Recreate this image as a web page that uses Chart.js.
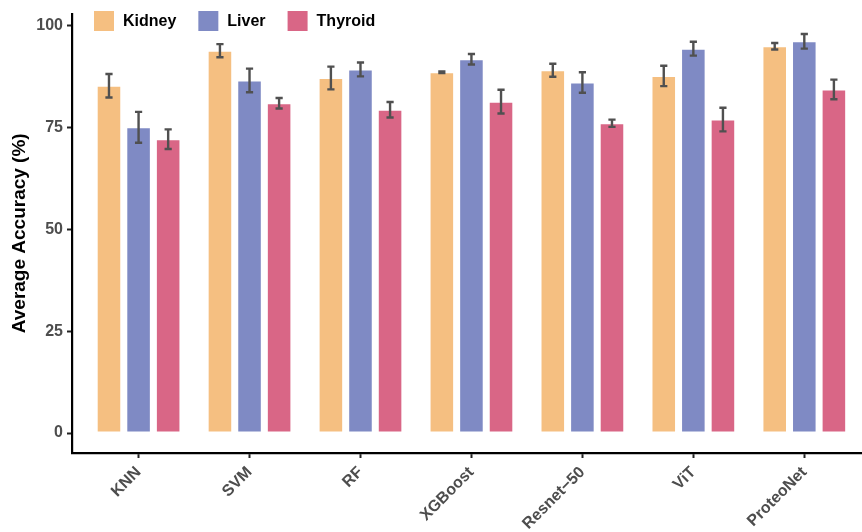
<!DOCTYPE html>
<html>
<head>
<meta charset="utf-8">
<script src="https://cdn.jsdelivr.net/npm/chart.js@4/dist/chart.umd.min.js"></script>
<style>
  html, body { margin: 0; padding: 0; background: #ffffff; }
  #wrap { width: 862px; height: 532px; position: relative; }
</style>
</head>
<body>
<div id="wrap"><canvas id="chart"></canvas></div>
<script>
// Models compared on the x axis
const models = ['KNN', 'SVM', 'RF', 'XGBoost', 'Resnet\u221250', 'ViT', 'ProteoNet'];

// Mean accuracy (%) per tissue
const kidney  = [85.2, 93.8, 87.1, 88.5, 89.0, 87.6, 94.9];
const liver   = [75.0, 86.5, 89.2, 91.7, 86.0, 94.3, 96.1];
const thyroid = [72.1, 80.9, 79.3, 81.3, 76.0, 76.9, 84.3];

// Standard deviation (%) per tissue
const kidneyErr  = [2.9, 1.6, 2.8, 0.2, 1.6, 2.5, 0.8];
const liverErr   = [3.8, 2.9, 1.7, 1.3, 2.5, 1.7, 1.8];
const thyroidErr = [2.4, 1.3, 1.9, 2.9, 0.9, 2.9, 2.4];

const yTicks = [0, 25, 50, 75, 100];

const FONT = '"Liberation Sans", Arial, Helvetica, sans-serif';

function series(values) {
  return values.map((v, i) => ({ x: i + 1, y: v }));
}

const datasets = [
  { label: 'Kidney',  data: series(kidney),  err: kidneyErr,  backgroundColor: '#F5BF81' },
  { label: 'Liver',   data: series(liver),   err: liverErr,   backgroundColor: '#7F8AC4' },
  { label: 'Thyroid', data: series(thyroid), err: thyroidErr, backgroundColor: '#D96686' }
].map(d => Object.assign(d, {
  borderColor: 'rgba(255,255,255,0.45)',
  borderWidth: 1,
  borderSkipped: false,
  categoryPercentage: 0.8,
  barPercentage: 0.83
}));

// Error bars drawn over each bar from the dataset's err array
const errorBars = {
  id: 'errorBars',
  afterDatasetsDraw(chart) {
    const ctx = chart.ctx;
    const y = chart.scales.y;
    ctx.save();
    ctx.strokeStyle = '#505050';
    ctx.lineWidth = 2.4;
    ctx.lineCap = 'butt';
    chart.data.datasets.forEach((ds, i) => {
      const meta = chart.getDatasetMeta(i);
      meta.data.forEach((bar, j) => {
        const v = ds.data[j].y, e = ds.err[j];
        const top = y.getPixelForValue(v + e);
        const bot = y.getPixelForValue(v - e);
        const cx = bar.x, half = 3.6;
        ctx.beginPath();
        ctx.moveTo(cx, top); ctx.lineTo(cx, bot);
        ctx.moveTo(cx - half, top); ctx.lineTo(cx + half, top);
        ctx.moveTo(cx - half, bot); ctx.lineTo(cx + half, bot);
        ctx.stroke();
      });
    });
    ctx.restore();
  }
};

// Legend laid over the top-left of the plot panel
const insetLegend = {
  id: 'insetLegend',
  afterDraw(chart) {
    const ctx = chart.ctx;
    ctx.save();
    ctx.font = 'bold 16px ' + FONT;
    ctx.textBaseline = 'middle';
    ctx.textAlign = 'left';
    let x = 94;
    const top = 11, box = 20;
    chart.data.datasets.forEach(ds => {
      ctx.fillStyle = ds.backgroundColor;
      ctx.fillRect(x, top, box, box);
      ctx.fillStyle = '#000000';
      ctx.fillText(ds.label, x + box + 9, top + box / 2 + 1);
      x += box + 9 + ctx.measureText(ds.label).width + 22;
    });
    ctx.restore();
  }
};

new Chart(document.getElementById('chart'), {
  type: 'bar',
  data: { datasets },
  plugins: [errorBars, insetLegend],
  options: {
    responsive: true,
    maintainAspectRatio: false,
    animation: false,
    layout: { padding: { top: 6, right: 0, left: 0, bottom: 0 } },
    plugins: {
      legend: { display: false },
      tooltip: { enabled: false }
    },
    scales: {
      x: {
        type: 'linear',
        offset: false,
        min: 0.4,
        max: 7.52,
        afterBuildTicks(scale) {
          scale.ticks = models.map((m, i) => ({ value: i + 1 }));
        },
        afterFit(scale) { scale.height = 79; },
        ticks: {
          autoSkip: false,
          minRotation: 45,
          maxRotation: 45,
          padding: 5,
          color: '#4D4D4D',
          font: { family: FONT, size: 16, weight: 'bold' },
          callback: (v) => models[Math.round(v) - 1]
        },
        grid: {
          display: true,
          offset: false,
          drawOnChartArea: false,
          drawTicks: true,
          tickLength: 5,
          tickColor: '#222222',
          tickWidth: 2
        },
        border: { display: true, color: '#000000', width: 2.2 }
      },
      y: {
        min: -4.9,
        max: 102.9,
        afterBuildTicks(scale) {
          scale.ticks = yTicks.map(v => ({ value: v }));
        },
        afterFit(scale) { scale.width = 72; },
        ticks: {
          padding: 4,
          color: '#4D4D4D',
          font: { family: FONT, size: 16, weight: 'bold' }
        },
        grid: {
          display: true,
          drawOnChartArea: false,
          drawTicks: true,
          tickLength: 5,
          tickColor: '#222222',
          tickWidth: 2
        },
        border: { display: true, color: '#000000', width: 2.2 },
        title: {
          display: true,
          text: 'Average Accuracy (%)',
          color: '#000000',
          padding: { top: 8, bottom: 2 },
          font: { family: FONT, size: 19, weight: 'bold' }
        }
      }
    }
  }
});
</script>
</body>
</html>
